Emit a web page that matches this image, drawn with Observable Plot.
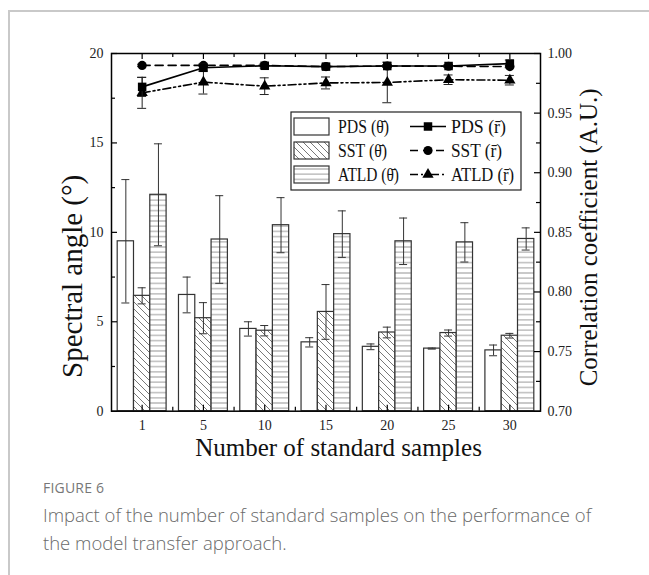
<!DOCTYPE html>
<html><head><meta charset="utf-8">
<script src="https://cdn.jsdelivr.net/npm/d3@7"></script>
<script src="https://cdn.jsdelivr.net/npm/@observablehq/plot@0.6"></script>
<style>
html,body{margin:0;padding:0;background:#fff;}
body{width:649px;height:575px;overflow:hidden;position:relative;}
#border{position:absolute;left:8px;top:10px;width:700px;height:600px;border-top:2px solid #c9c9c9;border-left:2px solid #c9c9c9;}
#chart{position:absolute;left:0;top:0;}
#cap{position:absolute;left:43px;top:478px;font-family:"Open Sans",sans-serif;color:#6a6a6a;}
#cap .fig{font-size:14px;letter-spacing:0.2px;color:#777;margin-bottom:4px;}
#cap .txt{font-size:18.5px;line-height:28px;font-weight:300;}
</style></head>
<body>
<div id="border"></div>
<div id="chart"></div>
<div id="cap"><div class="fig">FIGURE 6</div><div class="txt">Impact of the number of standard samples on the performance of<br>the model transfer approach.</div></div>
<script>
// ---- data ----
const categories = ["1", "5", "10", "15", "20", "25", "30"];
const pdsTheta    = [9.5, 6.5, 4.6, 3.85, 3.6, 3.5, 3.4];
const pdsThetaErr = [3.45, 1.0, 0.4, 0.26, 0.16, 0.03, 0.3];
const sstTheta    = [6.45, 5.2, 4.5, 5.55, 4.4, 4.37, 4.22];
const sstThetaErr = [0.45, 0.87, 0.29, 1.53, 0.3, 0.17, 0.13];
const atldTheta   = [12.1, 9.6, 10.4, 9.9, 9.5, 9.44, 9.63];
const atldThetaErr= [2.85, 2.45, 1.54, 1.3, 1.3, 1.1, 0.62];
const pdsR     = [0.972, 0.988, 0.9897, 0.989, 0.9895, 0.9895, 0.9915];
const pdsRErr  = [0.008, 0.003, 0.002, 0.002, 0.001, 0.001, 0.003];
const sstR     = [0.990, 0.990, 0.990, 0.989, 0.9895, 0.9893, 0.989];
const sstRErr  = [0.001, 0.001, 0.001, 0.001, 0.001, 0.001, 0.001];
const atldR    = [0.967, 0.976, 0.9726, 0.9753, 0.9757, 0.978, 0.9776];
const atldRErr = [0.013, 0.010, 0.007, 0.005, 0.017, 0.004, 0.004];
const leftTicks = [0, 5, 10, 15, 20];
const rightTicks = [0.70, 0.75, 0.80, 0.85, 0.90, 0.95, 1.00];
const xTitle = "Number of standard samples";
const yTitle = "Spectral angle (°)";
const y2Title = "Correlation coefficient (A.U.)";
const legendBars = ["PDS (θ\u0304)", "SST (θ\u0304)", "ATLD (θ\u0304)"];
const legendLines = ["PDS (r\u0304)", "SST (r\u0304)", "ATLD (r\u0304)"];

// ---- layout ----
const W = 649, H = 475;
const mL = 111, mR = W - 540, mT = 53, mB = H - 410.7;
const pxPerX = (W - mL - mR) / 7;
const pxPerY = (H - mT - mB) / 20;
const ux = p => p / pxPerX, uy = p => p / pxPerY;
const R0 = 0.70, R1 = 1.00;
const toL = r => (r - R0) / (R1 - R0) * 20;
const idx = categories.map((d, i) => i);
const bw = 0.266;
const center = i => i + 0.5;
const barX = (i, s) => center(i) + (s - 1.5) * bw;
const serif = "'Liberation Serif','Times New Roman',serif";

const series = [
  {v: pdsTheta, e: pdsThetaErr, fill: "white"},
  {v: sstTheta, e: sstThetaErr, fill: "url(#hatchD)"},
  {v: atldTheta, e: atldThetaErr, fill: "url(#hatchH)"}
];
const lines = [
  {v: sstR, e: sstRErr, dash: "8,5", symbol: "circle", r: 4.6},
  {v: atldR, e: atldRErr, dash: "8,3,2,3,2,3", symbol: "triangle", r: 4.2},
  {v: pdsR, e: pdsRErr, dash: null, symbol: "square", r: 4.8}
];

const marks = [];
series.forEach((s, k) => {
  marks.push(Plot.rectY(idx, {x1: i => barX(i, k), x2: i => barX(i, k + 1), y1: 0, y2: i => s.v[i], fill: s.fill, stroke: "#333", strokeWidth: 1.2}));
});
series.forEach((s, k) => {
  const cx = i => barX(i, k) + bw / 2;
  const cap = ux(4);
  marks.push(Plot.ruleX(idx, {x: cx, y1: i => s.v[i] - s.e[i], y2: i => s.v[i] + s.e[i], stroke: "#333", strokeWidth: 1}));
  marks.push(Plot.ruleY(idx, {x1: i => cx(i) - cap, x2: i => cx(i) + cap, y: i => s.v[i] + s.e[i], stroke: "#333", strokeWidth: 1}));
  marks.push(Plot.ruleY(idx, {x1: i => cx(i) - cap, x2: i => cx(i) + cap, y: i => s.v[i] - s.e[i], stroke: "#333", strokeWidth: 1}));
});
lines.forEach(l => {
  const cap = ux(4.5);
  marks.push(Plot.ruleX(idx, {x: center, y1: i => toL(l.v[i] - l.e[i]), y2: i => toL(l.v[i] + l.e[i]), stroke: "#222", strokeWidth: 1}));
  marks.push(Plot.ruleY(idx, {x1: i => center(i) - cap, x2: i => center(i) + cap, y: i => toL(l.v[i] + l.e[i]), stroke: "#222", strokeWidth: 1}));
  marks.push(Plot.ruleY(idx, {x1: i => center(i) - cap, x2: i => center(i) + cap, y: i => toL(l.v[i] - l.e[i]), stroke: "#222", strokeWidth: 1}));
  marks.push(Plot.line(idx, {x: center, y: i => toL(l.v[i]), stroke: "black", strokeWidth: 1.6, strokeDasharray: l.dash}));
  marks.push(Plot.dot(idx, {x: center, y: i => toL(l.v[i]), symbol: l.symbol, r: l.r, fill: "black", stroke: "none"}));
});

// ticks (inward)
const leftMinor = [2.5, 7.5, 12.5, 17.5];
const rightMinor = [0.725, 0.775, 0.825, 0.875, 0.925, 0.975];
const bounds = [1, 2, 3, 4, 5, 6];
marks.push(
  Plot.ruleY(leftTicks, {x1: 0, x2: ux(6), stroke: "black", strokeWidth: 1.2}),
  Plot.ruleY(leftMinor, {x1: 0, x2: ux(4), stroke: "black", strokeWidth: 1.2}),
  Plot.ruleY(rightTicks.map(toL), {x1: 7 - ux(6), x2: 7, stroke: "black", strokeWidth: 1.2}),
  Plot.ruleY(rightMinor.map(toL), {x1: 7 - ux(4), x2: 7, stroke: "black", strokeWidth: 1.2}),
  Plot.ruleX(idx.map(center), {y1: 0, y2: uy(6), stroke: "black", strokeWidth: 1.2}),
  Plot.ruleX(bounds, {y1: 0, y2: uy(4), stroke: "black", strokeWidth: 1.2}),
  Plot.ruleX(idx.map(center), {y1: 20 - uy(6), y2: 20, stroke: "black", strokeWidth: 1.2}),
  Plot.ruleX(bounds, {y1: 20 - uy(4), y2: 20, stroke: "black", strokeWidth: 1.2}),
  Plot.frame({stroke: "black", strokeWidth: 1.5}),
  Plot.axisY(leftTicks, {anchor: "left", tickSize: 0, tickPadding: 8, label: null, fontSize: 14, fill: "#222"}),
  Plot.axisY(rightTicks.map(toL), {anchor: "right", tickSize: 0, tickPadding: 7, label: null, fontSize: 14, fill: "#222",
    tickFormat: v => (R0 + v / 20 * (R1 - R0)).toFixed(2)}),
  Plot.axisX(idx.map(center), {anchor: "bottom", tickSize: 0, tickPadding: 8.5, label: null, fontSize: 14, fill: "#222",
    tickFormat: v => categories[Math.floor(v)]}),
  Plot.text([xTitle], {frameAnchor: "bottom", textAnchor: "middle", lineAnchor: "middle", dx: 12.5, dy: 37, fontSize: 25, fill: "#111"}),
  Plot.text([yTitle], {frameAnchor: "left", textAnchor: "middle", lineAnchor: "middle", dx: -39, dy: 44, rotate: -90, fontSize: 29, fill: "#111"}),
  Plot.text([y2Title], {frameAnchor: "right", textAnchor: "middle", lineAnchor: "middle", dx: 48, dy: 5, rotate: -90, fontSize: 25, fill: "#111"})
);

const chart = Plot.plot({
  width: W, height: H,
  marginLeft: mL, marginRight: mR, marginTop: mT, marginBottom: mB,
  x: {domain: [0, 7]},
  y: {domain: [0, 20]},
  style: {fontFamily: serif, background: "transparent", overflow: "visible"},
  marks
});

// patterns
const svg = d3.select(chart);
const defs = svg.insert("defs", ":first-child");
const pd = defs.append("pattern").attr("id", "hatchD").attr("patternUnits", "userSpaceOnUse").attr("width", 7).attr("height", 7);
pd.append("rect").attr("width", 7).attr("height", 7).attr("fill", "white");
pd.append("path").attr("d", "M-1,-1L8,8M-4.5,2.5L0.5,7.5M2.5,-4.5L7.5,0.5").attr("stroke", "#555").attr("stroke-width", 0.8);
const ph = defs.append("pattern").attr("id", "hatchH").attr("patternUnits", "userSpaceOnUse").attr("width", 10).attr("height", 5.2);
ph.append("rect").attr("width", 10).attr("height", 5.2).attr("fill", "white");
ph.append("path").attr("d", "M0,2.6H10").attr("stroke", "#9a9a9a").attr("stroke-width", 1);

// legend
const lg = svg.append("g").attr("font-family", serif).attr("fill", "#111").attr("text-anchor", "start");
const bx = 291, by = 112, bwid = 230, bh = 78;
lg.append("rect").attr("x", bx).attr("y", by).attr("width", bwid).attr("height", bh).attr("fill", "white").attr("stroke", "#222").attr("stroke-width", 1.2);
const rowY = [126.5, 150.5, 174.5];
legendBars.forEach((t, k) => {
  lg.append("rect").attr("x", 294).attr("y", rowY[k] - 8.5).attr("width", 35).attr("height", 17)
    .attr("fill", series[k].fill).attr("stroke", "#333").attr("stroke-width", 1.2);
  lg.append("text").attr("x", 338).attr("y", rowY[k]).attr("dy", "0.35em").attr("font-size", 19)
    .attr("textLength", [51, 49, 61][k]).attr("lengthAdjust", "spacingAndGlyphs").text(t);
});
const lineOrder = [2, 0, 1]; // PDS, SST, ATLD
legendLines.forEach((t, k) => {
  const l = lines[lineOrder[k]];
  lg.append("line").attr("x1", 410).attr("x2", 446).attr("y1", rowY[k]).attr("y2", rowY[k])
    .attr("stroke", "black").attr("stroke-width", 1.6).attr("stroke-dasharray", l.dash || null);
  const sym = d3.symbol().type({square: d3.symbolSquare, circle: d3.symbolCircle, triangle: d3.symbolTriangle}[l.symbol]).size(Math.PI * l.r * l.r);
  lg.append("path").attr("d", sym()).attr("transform", `translate(428,${rowY[k]})`).attr("fill", "black");
  lg.append("text").attr("x", 451).attr("y", rowY[k]).attr("dy", "0.35em").attr("font-size", 19)
    .attr("textLength", [55, 51, 63][k]).attr("lengthAdjust", "spacingAndGlyphs").text(t);
});

document.getElementById("chart").appendChild(chart);
</script>
</body></html>
